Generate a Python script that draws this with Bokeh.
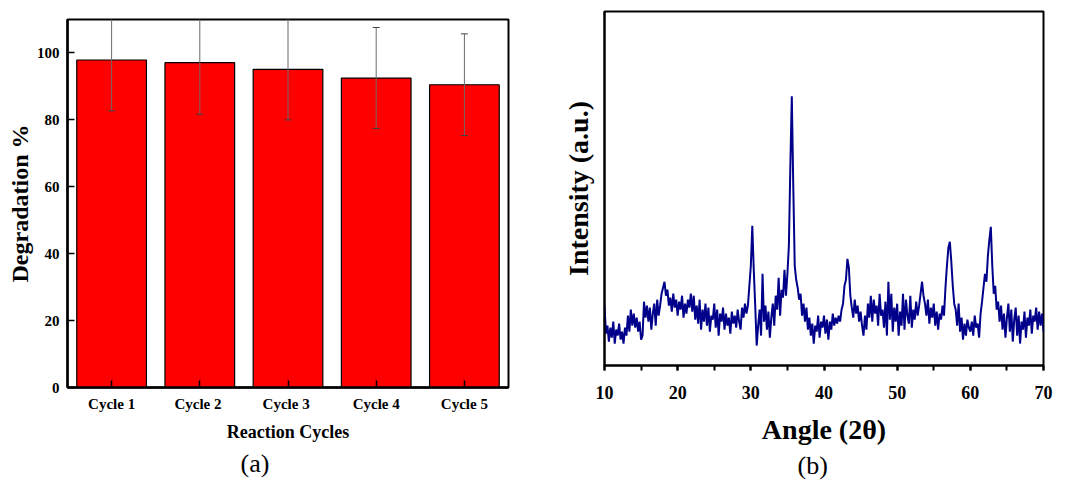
from bokeh.plotting import figure
from bokeh.layouts import row, column
from bokeh.models import Range1d, FactorRange, SingleIntervalTicker, FixedTicker, Title
from bokeh.embed import file_html
from bokeh.resources import INLINE

# ---- Panel (a) data ----
cycles = ["Cycle 1", "Cycle  2", "Cycle  3", "Cycle 4", "Cycle 5"]
degradation = [97.9, 97.1, 95.1, 92.5, 90.5]
deg_error = [15.2, 15.4, 15.1, 15.1, 15.2]

# ---- Panel (b) data (XRD pattern, 10-70 deg, step 0.2 deg) ----
angle_start = 10.0
angle_step = 0.2
intensity = [
    60, 32, 40, 24, 38, 28, 44, 22, 36, 30,
    42, 26, 34, 22, 38, 30, 50, 34, 56, 40,
    52, 38, 48, 34, 44, 26, 30, 64, 48, 60,
    44, 58, 36, 52, 62, 40, 66, 50, 60, 72,
    78, 84, 70, 76, 60, 68, 54, 72, 58, 66,
    50, 64, 56, 70, 48, 62, 52, 66, 58, 72,
    54, 70, 46, 60, 42, 66, 36, 56, 44, 62,
    40, 58, 34, 50, 46, 62, 38, 56, 30, 52,
    44, 58, 36, 52, 40, 48, 32, 54, 42, 50,
    38, 56, 44, 36, 58, 48, 62, 52, 60, 80,
    100, 140, 96, 60, 20, 40, 56, 30, 92, 44,
    60, 36, 54, 28, 48, 62, 40, 70, 56, 88,
    50, 76, 68, 96, 70, 92, 120, 200, 270, 180,
    100, 86, 78, 66, 72, 50, 62, 44, 58, 36,
    48, 30, 42, 22, 40, 34, 50, 28, 44, 38,
    50, 32, 46, 26, 44, 36, 52, 40, 48, 42,
    50, 44, 56, 62, 80, 86, 107, 98, 70, 58,
    48, 66, 52, 60, 44, 54, 40, 30, 50, 36,
    62, 48, 70, 44, 66, 52, 60, 40, 72, 50,
    56, 38, 64, 30, 84, 46, 72, 34, 58, 44,
    62, 30, 54, 40, 72, 36, 66, 50, 42, 70,
    38, 56, 46, 64, 50, 60, 72, 84, 70, 62,
    50, 66, 42, 58, 48, 62, 40, 54, 36, 52,
    46, 60, 50, 78, 100, 118, 124, 104, 80, 62,
    56, 40, 62, 34, 48, 26, 42, 30, 46, 38,
    34, 44, 30, 50, 38, 42, 28, 52, 64, 78,
    92, 84, 110, 126, 139, 100, 72, 80, 56, 64,
    44, 60, 36, 52, 28, 48, 62, 34, 56, 24,
    46, 58, 30, 50, 22, 44, 36, 54, 28, 48,
    40, 56, 32, 50, 44, 58, 36, 54, 40, 52,
    34,
]
angles = [round(angle_start + i * angle_step, 2) for i in range(len(intensity))]

SERIF = "Liberation Serif"

# ================= Panel (a) =================
p1 = figure(width=540, height=480,
            x_range=FactorRange(factors=cycles, range_padding=0),
            y_range=Range1d(0, 110),
            output_backend="svg", toolbar_location=None,
            min_border_left=67, min_border_right=32,
            min_border_top=19, min_border_bottom=93)

p1.vbar(x=cycles, top=degradation, width=0.79,
        fill_color="#FF0000", line_color="black", line_width=1.2)

lower = [v - e for v, e in zip(degradation, deg_error)]
upper = [v + e for v, e in zip(degradation, deg_error)]
p1.segment(x0=cycles, y0=lower, x1=cycles, y1=upper,
           line_color="#6a6a6a", line_width=1)
p1.scatter(x=cycles, y=lower, marker="dash", size=7,
           line_color="#404040", line_width=1)
p1.scatter(x=cycles, y=upper, marker="dash", size=7,
           line_color="#404040", line_width=1)

p1.xgrid.grid_line_color = None
p1.ygrid.grid_line_color = None
p1.outline_line_color = "black"
p1.outline_line_width = 2
p1.outline_line_alpha = 1

for ax in (p1.xaxis[0], p1.yaxis[0]):
    ax.axis_line_width = 2.5
    ax.axis_line_color = "black"
    ax.major_tick_in = 7
    ax.major_tick_out = 0
    ax.major_tick_line_width = 1.5
    ax.minor_tick_line_color = None
    ax.major_label_text_font = SERIF
    ax.major_label_text_font_style = "bold"
    ax.major_label_text_font_size = "15px"
    ax.major_label_text_color = "black"
    ax.axis_label_text_font = SERIF
    ax.axis_label_text_font_style = "bold"
    ax.axis_label_text_color = "black"

p1.xaxis.axis_label = "Reaction Cycles"
p1.xaxis.axis_label_text_font_size = "18px"
p1.xaxis.major_label_standoff = 8
p1.xaxis.axis_label_standoff = 7

p1.yaxis.ticker = SingleIntervalTicker(interval=20, num_minor_ticks=0)
p1.yaxis.axis_label = "Degradation %"
p1.yaxis.axis_label_text_font_size = "24px"
p1.yaxis.major_label_standoff = 8
p1.yaxis.axis_label_standoff = 1

p1.add_layout(Title(text="(a)", align="left", offset=173, standoff=5,
                    text_font=SERIF, text_font_style="normal",
                    text_font_size="26px", text_color="black"), "below")

# ================= Panel (b) =================
p2 = figure(width=526, height=480,
            x_range=Range1d(10, 70), y_range=Range1d(0, 355),
            output_backend="svg", toolbar_location=None,
            min_border_left=64, min_border_right=23,
            min_border_top=11, min_border_bottom=114)

p2.line(angles, intensity, line_color="#00008B", line_width=2)

p2.xgrid.grid_line_color = None
p2.ygrid.grid_line_color = None
p2.outline_line_color = "black"
p2.outline_line_width = 2
p2.outline_line_alpha = 1

xa = p2.xaxis[0]
xa.ticker = SingleIntervalTicker(interval=10, num_minor_ticks=2)
xa.axis_line_width = 2
xa.axis_line_color = "black"
xa.major_tick_in = 0
xa.major_tick_out = 5
xa.minor_tick_in = 0
xa.minor_tick_out = 5
xa.major_tick_line_width = 2
xa.minor_tick_line_width = 2
xa.major_label_text_font = SERIF
xa.major_label_text_font_style = "bold"
xa.major_label_text_font_size = "18px"
xa.major_label_text_color = "black"
xa.major_label_standoff = 15
xa.axis_label = "Angle (2θ)"
xa.axis_label_text_font = SERIF
xa.axis_label_text_font_style = "bold"
xa.axis_label_text_font_size = "28px"
xa.axis_label_text_color = "black"
xa.axis_label_standoff = 12

ya = p2.yaxis[0]
ya.ticker = FixedTicker(ticks=[])
ya.axis_line_width = 2
ya.axis_line_color = "black"
ya.major_tick_out = 0
ya.major_tick_in = 0
ya.minor_tick_line_color = None
ya.major_label_standoff = 0
ya.axis_label = "Intensity (a.u.)"
ya.axis_label_text_font = SERIF
ya.axis_label_text_font_style = "bold"
ya.axis_label_text_font_size = "28px"
ya.axis_label_text_color = "black"
ya.axis_label_standoff = 11

p2.add_layout(Title(text="(b)", align="left", offset=193, standoff=2,
                    text_font=SERIF, text_font_style="normal",
                    text_font_size="26px", text_color="black"), "below")

layout = row(column(p1), column(p2))
open("out.html", "w").write(file_html(layout, INLINE))
